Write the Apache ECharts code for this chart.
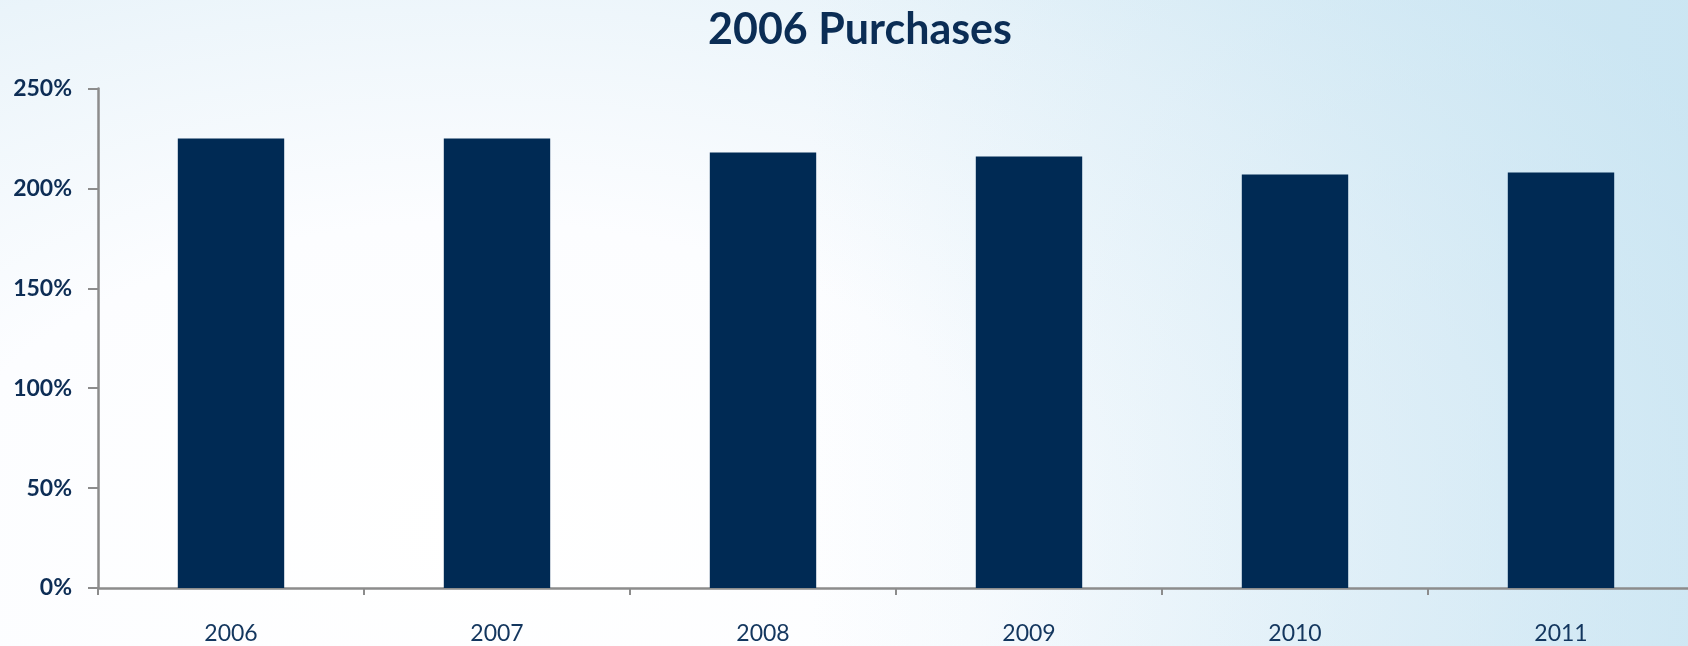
<!DOCTYPE html>
<html>
<head>
<meta charset="utf-8">
<title>2006 Purchases</title>
<script src="https://cdn.jsdelivr.net/npm/echarts@6/dist/echarts.min.js"></script>
<style>
  html, body { margin: 0; padding: 0; }
  #chart {
    width: 1688px;
    height: 646px;
    background:
      linear-gradient(90deg, rgba(196, 226, 241, 0) 48%, rgba(196, 226, 241, 0.6) 100%),
      radial-gradient(ellipse 85% 125% at 28% 82%, #ffffff 0%, #fcfdff 38%, #eaf4fa 72%, #d6ebf5 100%);
  }
</style>
</head>
<body>
<div id="chart"></div>
<script>
// Purchase ratio per year, as a percentage of the 2006 base
const years = ['2006', '2007', '2008', '2009', '2010', '2011'];
const purchases = [225, 225, 218, 216, 207, 208];
const yTicks = { min: 0, max: 250, step: 50 };

const navy = '#002a54';
const axisGrey = '#8c8c8c';

const chart = echarts.init(document.getElementById('chart'), null, { renderer: 'canvas' });
chart.setOption({
  backgroundColor: 'transparent',
  animation: false,
  title: {
    text: '2006 Purchases',
    left: 855,
    textAlign: 'center',
    top: 4,
    textStyle: {
      fontFamily: 'Lato',
      fontWeight: 'bold',
      fontSize: 43,
      color: '#0b2d55'
    }
  },
  // the plot runs a few pixels past the right edge of the canvas
  grid: { left: 98, width: 1596, top: 88.5, height: 499.5, outerBoundsMode: 'none', containLabel: false },
  xAxis: {
    type: 'category',
    data: years,
    boundaryGap: true,
    axisLine: { lineStyle: { color: axisGrey, width: 2.5 } },
    axisTick: { show: true, length: 7, alignWithLabel: false, lineStyle: { color: axisGrey, width: 2 } },
    axisLabel: {
      margin: 34,
      fontFamily: 'Lato',
      fontSize: 23,
      color: '#13365e'
    },
    splitLine: { show: false }
  },
  yAxis: {
    type: 'value',
    min: yTicks.min,
    max: yTicks.max,
    interval: yTicks.step,
    axisLine: { show: true, lineStyle: { color: axisGrey, width: 2.5 } },
    axisTick: { show: true, length: 10, inside: false, lineStyle: { color: axisGrey, width: 2 } },
    axisLabel: {
      margin: 26,
      formatter: '{value}%',
      fontFamily: 'Lato',
      fontWeight: 'bold',
      fontSize: 23,
      color: '#0d2d55'
    },
    splitLine: { show: false }
  },
  series: [{
    type: 'bar',
    data: purchases,
    barWidth: '40%',
    itemStyle: { color: navy }
  }]
});
</script>
</body>
</html>
